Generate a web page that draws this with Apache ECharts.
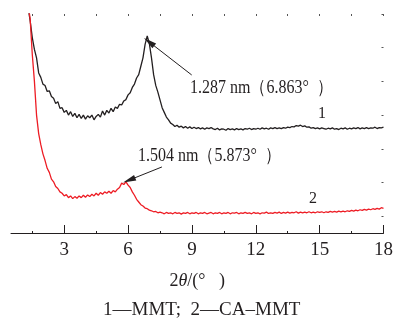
<!DOCTYPE html>
<html><head><meta charset="utf-8">
<script src="https://cdn.jsdelivr.net/npm/echarts@6/dist/echarts.min.js"></script>
<style>html,body{margin:0;padding:0;background:#fff}#c{width:396px;height:327px}</style>
</head><body><div id="c"></div>
<script>
const angles = [
1.3,1.4,1.5,1.6,1.7,1.8,1.9,2.0,2.1,2.2,
2.3,2.4,2.5,2.6,2.7,2.8,2.9,3.0,3.1,3.2,
3.3,3.4,3.5,3.6,3.7,3.8,3.9,4.0,4.1,4.2,
4.3,4.4,4.5,4.6,4.7,4.8,4.9,5.0,5.1,5.2,
5.3,5.4,5.5,5.6,5.7,5.8,5.9,6.0,6.1,6.2,
6.3,6.4,6.5,6.6,6.7,6.8,6.9,7.0,7.1,7.2,
7.3,7.4,7.5,7.6,7.7,7.8,7.9,8.0,8.1,8.2,
8.3,8.4,8.5,8.6,8.7,8.8,8.9,9.0,9.1,9.2,
9.3,9.4,9.5,9.6,9.7,9.8,9.9,10.0,10.1,10.2,
10.3,10.4,10.5,10.6,10.7,10.8,10.9,11.0,11.1,11.2,
11.3,11.4,11.5,11.6,11.7,11.8,11.9,12.0,12.1,12.2,
12.3,12.4,12.5,12.6,12.7,12.8,12.9,13.0,13.1,13.2,
13.3,13.4,13.5,13.6,13.7,13.8,13.9,14.0,14.1,14.2,
14.3,14.4,14.5,14.6,14.7,14.8,14.9,15.0,15.1,15.2,
15.3,15.4,15.5,15.6,15.7,15.8,15.9,16.0,16.1,16.2,
16.3,16.4,16.5,16.6,16.7,16.8,16.9,17.0,17.1,17.2,
17.3,17.4,17.5,17.6,17.7,17.8,17.9,18.0];

const mmt = [
6.7,6.3,5.8,5.45,5.2,4.75,4.62,4.42,4.38,4.2,
4.22,4.05,4.0,3.84,3.9,3.7,3.72,3.58,3.64,3.5,
3.6,3.46,3.55,3.42,3.52,3.4,3.5,3.38,3.48,3.42,
3.5,3.36,3.46,3.52,3.44,3.62,3.5,3.64,3.56,3.7,
3.6,3.74,3.7,3.82,3.8,3.92,3.96,4.1,4.16,4.32,
4.42,4.6,4.7,4.95,5.2,5.6,5.85,5.62,5.2,4.7,
4.38,4.18,3.95,3.72,3.58,3.44,3.36,3.26,3.22,3.16,
3.2,3.14,3.17,3.12,3.16,3.11,3.15,3.1,3.14,3.1,
3.13,3.09,3.12,3.08,3.12,3.1,3.13,3.09,3.07,3.11,
3.06,3.09,3.08,3.05,3.1,3.07,3.09,3.06,3.1,3.07,
3.09,3.06,3.1,3.08,3.11,3.07,3.1,3.08,3.11,3.08,
3.12,3.09,3.11,3.08,3.12,3.1,3.13,3.1,3.12,3.1,
3.13,3.11,3.14,3.13,3.16,3.15,3.19,3.17,3.2,3.16,
3.18,3.14,3.15,3.11,3.13,3.1,3.12,3.09,3.12,3.1,
3.08,3.11,3.09,3.12,3.08,3.1,3.07,3.11,3.09,3.12,
3.08,3.11,3.09,3.12,3.1,3.13,3.09,3.12,3.1,3.13,
3.1,3.12,3.11,3.14,3.1,3.13,3.12,3.14];

const caMmt = [
6.8,6.35,5.3,4.5,3.5,2.95,2.62,2.35,2.15,1.92,
1.8,1.6,1.52,1.38,1.32,1.22,1.18,1.1,1.14,1.05,
1.1,1.02,1.08,1.03,1.1,1.05,1.12,1.06,1.13,1.08,
1.15,1.1,1.18,1.12,1.2,1.15,1.22,1.18,1.24,1.18,
1.26,1.22,1.3,1.35,1.48,1.44,1.52,1.42,1.35,1.22,
1.12,1.0,0.92,0.84,0.8,0.74,0.72,0.68,0.66,0.63,
0.64,0.6,0.62,0.6,0.57,0.61,0.58,0.6,0.57,0.61,
0.58,0.6,0.56,0.6,0.58,0.61,0.57,0.6,0.58,0.61,
0.57,0.6,0.58,0.61,0.57,0.59,0.61,0.57,0.6,0.58,
0.61,0.57,0.6,0.58,0.61,0.57,0.6,0.59,0.61,0.57,
0.6,0.58,0.61,0.58,0.6,0.57,0.61,0.58,0.6,0.57,
0.6,0.59,0.62,0.58,0.6,0.58,0.61,0.59,0.62,0.58,
0.61,0.59,0.62,0.59,0.61,0.6,0.63,0.59,0.62,0.6,
0.62,0.6,0.63,0.6,0.62,0.6,0.63,0.61,0.63,0.6,
0.63,0.61,0.64,0.62,0.64,0.62,0.65,0.63,0.65,0.63,
0.66,0.64,0.67,0.65,0.68,0.66,0.69,0.67,0.7,0.68,
0.71,0.69,0.72,0.7,0.73,0.71,0.75,0.73];

const xMajorTicks = [3, 6, 9, 12, 15, 18];
const xMinorTicks = [1.5, 4.5, 7.5, 10.5, 13.5, 16.5];
const xTopTicks = [1.5, 3, 4.5, 6, 7.5, 9, 10.5, 12, 13.5, 15, 16.5, 18];
const yTicks = [0.5, 1.5, 2.5, 3.5, 4.5, 5.5, 6.5];

// annotation arrows: [text-side point, peak-side point] in data units
const arrow1 = [[8.99, 4.69], [6.99, 5.67]];
const arrow2 = [[7.59, 1.96], [6.05, 1.57]];

const FONT = '"Liberation Serif", "Times New Roman", serif';
const ink = '#231f20';
const red = '#ed1c24';

const chart = echarts.init(document.getElementById('c'), null, {renderer: 'canvas'});

const pairs = (ys) => angles.map((a, i) => [a, ys[i]]);

function arrowLine(a, color) {
  return {
    silent: true, animation: false,
    symbol: ['none', 'triangle'],
    symbolSize: [6, 13],
    lineStyle: {color: color, width: 1, type: 'solid'},
    itemStyle: {color: color},
    label: {show: false},
    emphasis: {disabled: true},
    data: [[{coord: a[0]}, {coord: a[1]}]]
  };
}

chart.setOption({
  animation: false,
  backgroundColor: '#fff',
  grid: {left: 11, right: 10, top: 14, bottom: 94},
  xAxis: [
    {
      type: 'value', min: 0.5, max: 18, position: 'bottom',
      axisLine: {show: true, lineStyle: {color: ink, width: 1}},
      axisTick: {show: true, inside: true, length: 8, customValues: xMajorTicks, lineStyle: {color: ink, width: 1}},
      axisLabel: {show: true, customValues: xMajorTicks, fontFamily: FONT, fontSize: 19, color: ink, margin: 8},
      splitLine: {show: false},
      name: '2{i|θ}/(°   )',
      nameLocation: 'middle', nameGap: 39,
      nameTextStyle: {fontFamily: FONT, fontSize: 18, color: ink,
        rich: {i: {fontFamily: FONT, fontStyle: 'italic', fontSize: 18, color: ink}}}
    },
    {
      type: 'value', min: 0.5, max: 18, position: 'bottom',
      axisLine: {show: false},
      axisTick: {show: true, inside: true, length: 2, customValues: xMinorTicks, lineStyle: {color: ink, width: 1}},
      axisLabel: {show: false}, splitLine: {show: false}
    },
    {
      type: 'value', min: 0.5, max: 18, position: 'top',
      axisLine: {show: false},
      axisTick: {show: true, inside: true, length: 2, customValues: xTopTicks, lineStyle: {color: '#555', width: 1}},
      axisLabel: {show: false}, splitLine: {show: false}
    }
  ],
  yAxis: {
    type: 'value', min: 0, max: 6.5, position: 'right',
    axisLine: {show: false},
    axisTick: {show: true, inside: true, length: 2, customValues: yTicks, lineStyle: {color: '#555', width: 1}},
    axisLabel: {show: false}, splitLine: {show: false}
  },
  series: [
    {
      name: 'MMT', type: 'line', xAxisIndex: 0, data: pairs(mmt),
      showSymbol: false, symbol: 'none', clip: true,
      lineStyle: {color: ink, width: 1.3}, itemStyle: {color: ink},
      markLine: arrowLine(arrow1, ink), z: 2
    },
    {
      name: 'CA-MMT', type: 'line', xAxisIndex: 0, data: pairs(caMmt),
      showSymbol: false, symbol: 'none', clip: true,
      lineStyle: {color: red, width: 1.3}, itemStyle: {color: red},
      markLine: arrowLine(arrow2, ink), z: 3
    }
  ],
  graphic: [
    {type: 'text', x: 190, y: 78, scaleY: 1.2, style: {text: '1.287 nm（6.863°  ）', font: '16px ' + FONT, fill: ink}},
    {type: 'text', x: 138, y: 146, scaleY: 1.2, style: {text: '1.504 nm（5.873°  ）', font: '16px ' + FONT, fill: ink}},
    {type: 'text', x: 318, y: 105, scaleY: 1.1, style: {text: '1', font: '16px ' + FONT, fill: ink}},
    {type: 'text', x: 309, y: 190, scaleY: 1.1, style: {text: '2', font: '16px ' + FONT, fill: ink}},
    {type: 'text', x: 103, y: 301, style: {text: '1—MMT;  2—CA–MMT', font: '19px ' + FONT, fill: ink}}
  ]
});
</script>
</body></html>
